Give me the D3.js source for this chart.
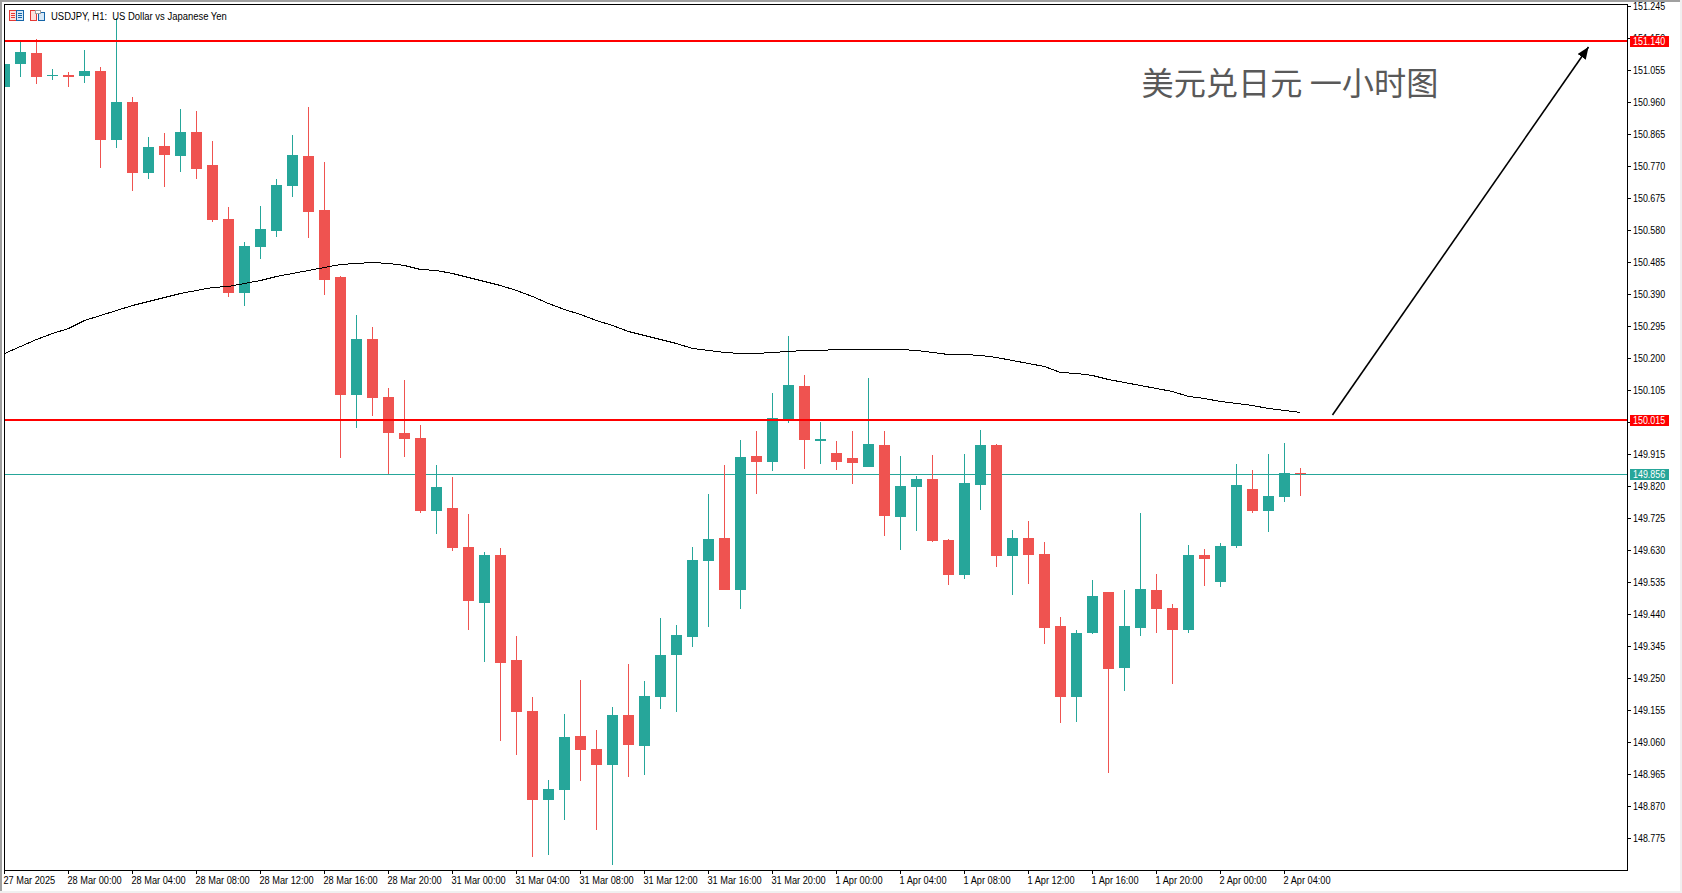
<!DOCTYPE html>
<html>
<head>
<meta charset="utf-8">
<title>USDJPY H1</title>
<script src="https://cdn.jsdelivr.net/npm/d3@7/dist/d3.min.js"></script>
<style>
	html, body { margin: 0; padding: 0; background: #fff; overflow: hidden; }
	text { font-family: "Liberation Sans", sans-serif; font-size: 10px; fill: #000; }
	.note { font-family: "Noto Sans CJK SC", sans-serif; font-size: 32.2px; fill: #595959; }
</style>
</head>
<body>
<div id="chart"></div>
<script>
///////////////////////////////////////////////////////////////////////////
//////////////////////////// data /////////////////////////////////////////
///////////////////////////////////////////////////////////////////////////

const open = [
	151.005, 151.074, 151.106, 151.038, 151.041, 151.038, 151.053, 150.848, 150.961, 150.750,
	150.830, 150.801, 150.872, 150.774, 150.614, 150.394, 150.530, 150.578, 150.711, 150.801,
	150.640, 150.441, 150.091, 150.257, 150.085, 149.978, 149.963, 149.746, 149.755, 149.639,
	149.473, 149.616, 149.304, 149.153, 148.889, 148.918, 149.079, 149.040, 148.993, 149.141,
	149.049, 149.194, 149.319, 149.372, 149.598, 149.666, 149.512, 149.910, 149.892, 150.020,
	150.118, 149.954, 149.919, 149.904, 149.877, 149.943, 149.728, 149.818, 149.841, 149.660,
	149.557, 149.824, 149.943, 149.613, 149.666, 149.619, 149.405, 149.194, 149.384, 149.506,
	149.280, 149.399, 149.512, 149.459, 149.393, 149.616, 149.536, 149.642, 149.812, 149.746,
	149.788, 149.859
];
const high = [
	151.085, 151.142, 151.148, 151.059, 151.050, 151.115, 151.065, 151.210, 150.976, 150.857,
	150.869, 150.940, 150.934, 150.845, 150.649, 150.545, 150.652, 150.732, 150.863, 150.946,
	150.783, 150.444, 150.329, 150.293, 150.112, 150.136, 150.002, 149.883, 149.847, 149.737,
	149.625, 149.636, 149.375, 149.194, 148.948, 149.144, 149.245, 149.096, 149.165, 149.292,
	149.242, 149.429, 149.408, 149.639, 149.797, 149.883, 149.957, 149.984, 150.097, 150.266,
	150.150, 150.011, 149.954, 149.984, 150.141, 149.984, 149.910, 149.850, 149.913, 149.663,
	149.916, 149.987, 149.946, 149.690, 149.717, 149.654, 149.432, 149.393, 149.542, 149.506,
	149.512, 149.740, 149.559, 149.470, 149.645, 149.633, 149.651, 149.886, 149.868, 149.916,
	149.949, 149.874
];
const low = [
	150.996, 151.035, 151.014, 151.026, 151.005, 151.017, 150.765, 150.824, 150.697, 150.732,
	150.708, 150.753, 150.732, 150.605, 150.382, 150.355, 150.495, 150.560, 150.679, 150.557,
	150.388, 149.904, 149.993, 150.029, 149.856, 149.907, 149.740, 149.678, 149.628, 149.393,
	149.298, 149.064, 149.022, 148.719, 148.725, 148.829, 148.945, 148.799, 148.696, 148.957,
	148.963, 149.159, 149.150, 149.343, 149.402, 149.512, 149.456, 149.797, 149.865, 150.008,
	149.871, 149.886, 149.868, 149.827, 149.877, 149.672, 149.630, 149.687, 149.654, 149.527,
	149.545, 149.749, 149.580, 149.497, 149.530, 149.352, 149.117, 149.120, 149.381, 148.969,
	149.212, 149.375, 149.384, 149.233, 149.384, 149.524, 149.521, 149.636, 149.740, 149.684,
	149.773, 149.791
];
const close = [
	151.074, 151.109, 151.035, 151.041, 151.035, 151.053, 150.848, 150.961, 150.750, 150.827,
	150.804, 150.872, 150.762, 150.611, 150.394, 150.533, 150.584, 150.714, 150.804, 150.634,
	150.432, 150.091, 150.257, 150.082, 149.978, 149.960, 149.746, 149.818, 149.636, 149.479,
	149.616, 149.295, 149.150, 148.889, 148.921, 149.076, 149.037, 148.993, 149.141, 149.052,
	149.197, 149.319, 149.378, 149.601, 149.663, 149.512, 149.907, 149.892, 150.022, 150.121,
	149.957, 149.960, 149.892, 149.889, 149.946, 149.731, 149.821, 149.841, 149.657, 149.557,
	149.830, 149.943, 149.613, 149.666, 149.616, 149.399, 149.194, 149.384, 149.494, 149.277,
	149.405, 149.515, 149.456, 149.393, 149.616, 149.604, 149.642, 149.824, 149.746, 149.791,
	149.859, 149.856
];

// moving average, one value per bar
const movingAverage = [
	150.215, 150.236, 150.257, 150.274, 150.291, 150.314, 150.329, 150.343, 150.359, 150.370,
	150.381, 150.394, 150.402, 150.411, 150.416, 150.423, 150.433, 150.444, 150.454, 150.462,
	150.472, 150.479, 150.482, 150.485, 150.482, 150.478, 150.466, 150.461, 150.453, 150.441,
	150.430, 150.418, 150.403, 150.386, 150.363, 150.345, 150.331, 150.313, 150.299, 150.280,
	150.269, 150.257, 150.244, 150.231, 150.225, 150.218, 150.215, 150.215, 150.218, 150.222,
	150.224, 150.224, 150.227, 150.227, 150.227, 150.227, 150.227, 150.225, 150.220, 150.214,
	150.212, 150.209, 150.203, 150.194, 150.186, 150.176, 150.160, 150.156, 150.151, 150.140,
	150.131, 150.122, 150.113, 150.102, 150.089, 150.081, 150.072, 150.067, 150.061, 150.053,
	150.047, 150.040
];

const priceTicks = [
	151.245, 151.150, 151.055, 150.960, 150.865, 150.770, 150.675, 150.580, 150.485,
	150.390, 150.295, 150.200, 150.105, 150.010, 149.915, 149.820, 149.725, 149.630,
	149.535, 149.440, 149.345, 149.250, 149.155, 149.060, 148.965, 148.870, 148.775
];

// one label every 4 bars
const timeLabels = [
	"27 Mar 2025", "28 Mar 00:00", "28 Mar 04:00", "28 Mar 08:00", "28 Mar 12:00", "28 Mar 16:00", "28 Mar 20:00",
	"31 Mar 00:00", "31 Mar 04:00", "31 Mar 08:00", "31 Mar 12:00", "31 Mar 16:00", "31 Mar 20:00",
	"1 Apr 00:00", "1 Apr 04:00", "1 Apr 08:00", "1 Apr 12:00", "1 Apr 16:00", "1 Apr 20:00",
	"2 Apr 00:00", "2 Apr 04:00"
];

const levels = [151.140, 150.015];
const bid = 149.856;

// arrow, in bars and prices
const arrowBars = [83, 99];
const arrowPrices = [150.032, 151.125];

const titleText = "USDJPY, H1:  US Dollar vs Japanese Yen";
const noteText = "美元兑日元 一小时图";

///////////////////////////////////////////////////////////////////////////
//////////////////////////// Set up svg ///////////////////////////////////
///////////////////////////////////////////////////////////////////////////

const width = 1682;
const height = 893;
const frame = { top: 4, right: 1627, bottom: 870, left: 4 };
const red = "#ef5350";
const teal = "#26a69a";
const line = "#ff0000";

const svg = d3.select("#chart")
	.append("svg")
	.attr("width", width)
	.attr("height", height)
	.style("display", "block");

// window edges
svg.append("rect").attr("width", width).attr("height", 2).attr("fill", "#a0a0a0");
svg.append("rect").attr("width", 2).attr("height", height).attr("fill", "#a0a0a0");
svg.append("rect").attr("y", height - 2).attr("width", width).attr("height", 2).attr("fill", "#f0f0f0");
svg.append("rect").attr("x", width - 2).attr("width", 2).attr("height", height).attr("fill", "#f0f0f0");

svg.append("clipPath")
	.attr("id", "plot")
	.append("rect")
	.attr("x", frame.left)
	.attr("y", frame.top)
	.attr("width", frame.right - frame.left)
	.attr("height", frame.bottom - frame.top);

// the terminal font is narrower than anything installed
function squeeze(selection, k) {
	selection.each(function () {
		const w = this.getComputedTextLength();
		d3.select(this)
			.attr("textLength", w * k)
			.attr("lengthAdjust", "spacingAndGlyphs");
	});
}

///////////////////////////////////////////////////////////////////////////
//////////////////////////// scales ///////////////////////////////////////
///////////////////////////////////////////////////////////////////////////

// 16px a bar
const xScale = d3.scaleLinear().domain([0, 81]).range([4.5, 1300.5]);

// 32px per 0.095
const yScale = d3.scaleLinear().domain([151.245, 148.775]).rangeRound([6.3, 838.3]);

///////////////////////////////////////////////////////////////////////////
//////////////////////////// plot /////////////////////////////////////////
///////////////////////////////////////////////////////////////////////////

const plot = svg.append("g").attr("clip-path", "url(#plot)");

// last price line goes under the candles
plot.append("rect")
	.attr("x", frame.left)
	.attr("y", yScale(bid))
	.attr("width", frame.right - frame.left)
	.attr("height", 1)
	.attr("fill", teal);

const bars = d3.range(open.length);
const candle = plot.selectAll("g.candle")
	.data(bars)
	.enter()
	.append("g")
	.attr("class", "candle")
	.attr("fill", (i) => (close[i] >= open[i] ? teal : red));

candle.append("rect")
	.attr("x", (i) => xScale(i) - 0.5)
	.attr("y", (i) => yScale(high[i]))
	.attr("width", 1)
	.attr("height", (i) => yScale(low[i]) - yScale(high[i]));

candle.append("rect")
	.attr("x", (i) => xScale(i) - 5.5)
	.attr("y", (i) => yScale(Math.max(open[i], close[i])))
	.attr("width", 11)
	.attr("height", (i) => Math.max(1, yScale(Math.min(open[i], close[i])) - yScale(Math.max(open[i], close[i]))));

// moving average
const maLine = d3.line()
	.x((d, i) => xScale(i))
	.y((d) => yScale(d) + 0.5);

plot.append("path")
	.attr("d", maLine(movingAverage))
	.attr("fill", "none")
	.attr("stroke", "#000")
	.attr("stroke-width", 1)
	.attr("shape-rendering", "crispEdges");

// horizontal levels
plot.selectAll("rect.level")
	.data(levels)
	.enter()
	.append("rect")
	.attr("class", "level")
	.attr("x", frame.left)
	.attr("y", (d) => yScale(d) - 2)
	.attr("width", frame.right - frame.left)
	.attr("height", 2)
	.attr("fill", line);

// arrow
svg.append("defs")
	.append("marker")
	.attr("id", "head")
	.attr("markerUnits", "userSpaceOnUse")
	.attr("viewBox", "0 0 12 10")
	.attr("refX", 12)
	.attr("refY", 5)
	.attr("markerWidth", 12)
	.attr("markerHeight", 10)
	.attr("orient", "auto")
	.append("path")
	.attr("d", "M0,0L12,5L0,10Z")
	.attr("fill", "#000");

plot.append("line")
	.attr("x1", xScale(arrowBars[0]))
	.attr("y1", yScale(arrowPrices[0]))
	.attr("x2", xScale(arrowBars[1]))
	.attr("y2", yScale(arrowPrices[1]))
	.attr("stroke", "#000")
	.attr("stroke-width", 1.6)
	.attr("marker-end", "url(#head)");

svg.append("text")
	.attr("class", "note")
	.attr("x", 1141.5)
	.attr("y", 95)
	.text(noteText);

///////////////////////////////////////////////////////////////////////////
//////////////////////////// header ///////////////////////////////////////
///////////////////////////////////////////////////////////////////////////

// the two small toolbar icons
const icon = svg.append("g").attr("fill", "none").attr("stroke-width", 1);
icon.append("rect").attr("x", 9.5).attr("y", 10.5).attr("width", 7).attr("height", 10).attr("stroke", "#e53935").attr("fill", "#fde0dc");
icon.append("rect").attr("x", 16.5).attr("y", 10.5).attr("width", 7).attr("height", 10).attr("stroke", "#1565a8").attr("fill", "#d6e8f7");
icon.append("path").attr("d", "M11,13.5h4M11,15.5h4M11,17.5h4").attr("stroke", "#e53935");
icon.append("path").attr("d", "M18,13.5h4M18,15.5h4M18,17.5h4").attr("stroke", "#1565a8");
icon.append("rect").attr("x", 30.5).attr("y", 10.5).attr("width", 6).attr("height", 10).attr("stroke", "#e53935").attr("fill", "#fde0dc");
icon.append("rect").attr("x", 38.5).attr("y", 12.5).attr("width", 6).attr("height", 8).attr("stroke", "#1565a8").attr("fill", "#d6e8f7");
icon.append("rect").attr("x", 35.5).attr("y", 10.5).attr("width", 5).attr("height", 3).attr("stroke", "#a0a0a0").attr("fill", "#fff");

svg.append("text")
	.attr("x", 51)
	.attr("y", 20)
	.attr("xml:space", "preserve")
	.style("white-space", "pre")
	.text(titleText)
	.call(squeeze, 0.945);

///////////////////////////////////////////////////////////////////////////
//////////////////////////// axes /////////////////////////////////////////
///////////////////////////////////////////////////////////////////////////

svg.append("rect")
	.attr("x", frame.left + 0.5)
	.attr("y", frame.top + 0.5)
	.attr("width", frame.right - frame.left)
	.attr("height", frame.bottom - frame.top)
	.attr("fill", "none")
	.attr("stroke", "#000");

const xAxis = d3.axisBottom(xScale)
	.tickValues(timeLabels.map((d, i) => i * 4))
	.tickFormat((d) => timeLabels[d / 4])
	.tickSize(4)
	.tickSizeOuter(0)
	.offset(0);

svg.append("g")
	.attr("class", "x-axis")
	.attr("transform", `translate(0, ${frame.bottom})`)
	.call(xAxis)
	.call((g) => g.select(".domain").remove())
	.selectAll("text")
	.attr("text-anchor", "start")
	.attr("x", -1)
	.attr("y", 7)
	.attr("font-family", null)
	.attr("font-size", null)
	.call(squeeze, 0.92);

const yAxis = d3.axisRight(yScale)
	.tickValues(priceTicks)
	.tickFormat(d3.format(".3f"))
	.tickSize(4)
	.tickSizeOuter(0);

svg.append("g")
	.attr("class", "y-axis")
	.attr("transform", `translate(${frame.right}, 0)`)
	.call(yAxis)
	.call((g) => g.select(".domain").remove())
	.selectAll("text")
	.attr("x", 6)
	.attr("font-family", null)
	.attr("font-size", null)
	.call(squeeze, 0.89);

// price tags sit on top of the tick labels
const tags = levels.map((d) => ({ price: d, color: line, up: 6 })).concat({ price: bid, color: teal, up: 5 });

const tag = svg.selectAll("g.tag")
	.data(tags)
	.enter()
	.append("g")
	.attr("class", "tag")
	.attr("transform", (d) => `translate(1630, ${yScale(d.price) - d.up})`);

tag.append("rect")
	.attr("width", 39)
	.attr("height", 11)
	.attr("fill", (d) => d.color);

tag.append("text")
	.attr("x", 3)
	.attr("y", 9)
	.style("fill", "#fff")
	.text((d) => d3.format(".3f")(d.price))
	.call(squeeze, 0.89);
</script>
</body>
</html>
